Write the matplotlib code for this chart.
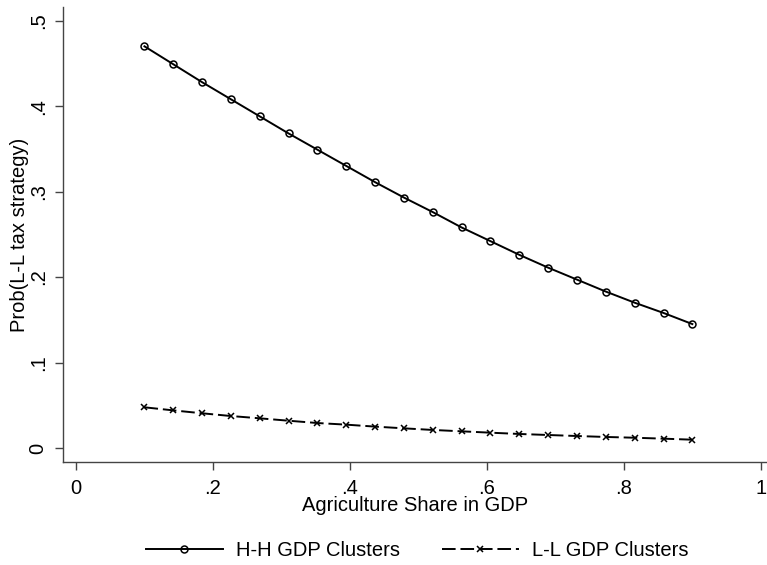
import numpy as np
import matplotlib
matplotlib.use("Agg")
import matplotlib.pyplot as plt

plt.rcParams['font.family'] = ['Liberation Sans', 'DejaVu Sans']

# dados
agri_share = np.linspace(0.1, 0.9, 20)
prob_hh = [0.470, 0.449, 0.428, 0.408, 0.388, 0.368, 0.349, 0.330, 0.311, 0.293,
           0.276, 0.258, 0.242, 0.226, 0.211, 0.197, 0.183, 0.170, 0.158, 0.145]
prob_ll = [0.0476, 0.0440, 0.0406, 0.0374, 0.0347, 0.0319, 0.0292, 0.0273, 0.0250, 0.0230,
           0.0211, 0.0195, 0.0179, 0.0164, 0.0152, 0.0140, 0.0129, 0.0120, 0.0109, 0.0097]
xticks = [0, 0.2, 0.4, 0.6, 0.8, 1]
xtick_labels = ['0', '.2', '.4', '.6', '.8', '1']
yticks = [0, 0.1, 0.2, 0.3, 0.4, 0.5]
ytick_labels = ['0', '.1', '.2', '.3', '.4', '.5']

fs = 14.5

fig = plt.figure(figsize=(7.67, 5.65), dpi=100)
ax = fig.add_axes([0.0821, 0.1823, 0.9179, 0.8053])

ax.plot(agri_share, prob_hh, color='black', lw=1.4, marker='o', markersize=5,
        markerfacecolor='none', markeredgewidth=1.1, label='H-H GDP Clusters')
ax.plot(agri_share, prob_ll, color='black', lw=1.4, marker='x', markersize=5,
        markeredgewidth=1.1, dashes=(7, 2.5), label='L-L GDP Clusters')

ax.set_xlim(-0.019, 1.009)
ax.set_ylim(-0.0164, 0.516)
ax.set_xticks(xticks)
ax.set_xticklabels(xtick_labels)
ax.set_yticks(yticks)
ax.set_yticklabels(ytick_labels, rotation=90, va='center')

for s in ['top', 'right']:
    ax.spines[s].set_visible(False)
for s in ['left', 'bottom']:
    ax.spines[s].set_color('#444444')
    ax.spines[s].set_linewidth(1.0)
ax.tick_params(axis='both', direction='out', length=6, width=1.0, color='#444444',
               labelsize=fs)
ax.tick_params(axis='x', pad=6)
ax.tick_params(axis='y', pad=5)

ax.set_xlabel('Agriculture Share in GDP', fontsize=fs, labelpad=-1)
ax.set_ylabel('Prob(L-L tax strategy)', fontsize=fs, labelpad=0)

fig.legend(loc='center', bbox_to_anchor=(0.544, 0.025), ncol=2, frameon=False,
           fontsize=fs, handlelength=3.8, columnspacing=2.1, handletextpad=0.65)

fig.savefig('out.png', dpi=100)
